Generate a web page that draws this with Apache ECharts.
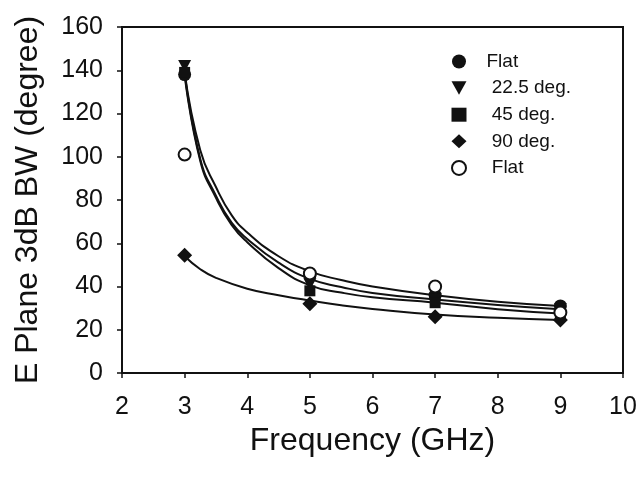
<!DOCTYPE html>
<html>
<head>
<meta charset="utf-8">
<script src="https://cdn.jsdelivr.net/npm/echarts@6/dist/echarts.min.js"></script>
<style>
  html, body { margin: 0; padding: 0; background: #ffffff; }
  #chart { width: 641px; height: 477px; }
</style>
</head>
<body>
<div id="chart"></div>
<script>
// Measured beamwidth per frequency (GHz -> degrees)
const freqs = [3, 5, 7, 9];
const flatFilled = [138, 45, 36, 31];
const deg22 = [142, 41, 34, 29.5];
const deg45 = [139, 38, 32.5, 27.5];
const deg90 = [54.5, 32, 26, 24.5];
const flatOpen = [101, 46, 40, 28];

// Fitted trend curves, sampled along frequency
const fitFreq = [3, 3.25, 3.5, 3.75, 4, 4.5, 5, 5.5, 6, 7, 8, 9];
const fitFlat = [139, 103, 86, 73, 65, 54, 47, 43, 40, 36, 33, 31];
const fit22 = [139, 99, 82, 69.5, 62, 51, 43.5, 39.8, 37, 34, 31.5, 29.5];
const fit45 = [138, 98, 81, 68.5, 60.5, 48.5, 40.5, 37.2, 35, 32.5, 29.5, 27.5];
const fitFreq90 = [3, 3.25, 3.5, 4, 4.5, 5, 5.5, 6, 7, 8, 9];
const fit90 = [54, 48, 44, 39, 36, 33.5, 31.3, 29.6, 27, 25.5, 24.5];

const xTicks = { min: 2, max: 10, step: 1 };
const yTicks = { min: 0, max: 160, step: 20 };

const pairs = (xs, ys) => xs.map((x, i) => [x, ys[i]]);
const FONT = 'Liberation Sans, Arial, sans-serif';
const INK = '#111111';
const TRI_DOWN = 'path://M0,0 L10,0 L5,9 Z';

function fitLine(xs, ys) {
  return {
    type: 'line',
    data: pairs(xs, ys),
    smooth: 0.5,
    showSymbol: false,
    silent: true,
    z: 1,
    lineStyle: { color: INK, width: 2 }
  };
}

function markers(name, ys, symbol, size, style) {
  return {
    type: 'scatter',
    name: name,
    data: pairs(freqs, ys),
    symbol: symbol,
    symbolSize: size,
    z: 3,
    itemStyle: Object.assign({ opacity: 1 }, style)
  };
}

const chart = echarts.init(document.getElementById('chart'), null, { renderer: 'canvas' });

chart.setOption({
  backgroundColor: '#ffffff',
  animation: false,
  textStyle: { fontFamily: FONT },
  grid: {
    left: 122, top: 27, right: 18, bottom: 104,
    show: true, borderColor: INK, borderWidth: 2, backgroundColor: 'transparent'
  },
  legend: {
    orient: 'vertical',
    left: 446,
    top: 47,
    itemWidth: 15,
    itemHeight: 14,
    itemGap: 7.6,
    selectedMode: false,
    textStyle: { fontFamily: FONT, fontSize: 19, color: INK, lineHeight: 19, padding: [0, 0, 0, 15] },
    data: ['Flat', ' 22.5 deg.', ' 45 deg.', ' 90 deg.', ' Flat']
  },
  xAxis: {
    type: 'value',
    min: xTicks.min, max: xTicks.max, interval: xTicks.step,
    name: 'Frequency (GHz)',
    nameLocation: 'middle',
    nameGap: 50,
    nameTextStyle: { fontFamily: FONT, fontSize: 32, color: INK },
    axisLine: { show: true, onZero: false, lineStyle: { color: INK, width: 2 } },
    axisTick: { show: true, inside: false, length: 5, lineStyle: { color: INK, width: 1.5 } },
    axisLabel: { fontFamily: FONT, fontSize: 25, color: INK, margin: 22 },
    splitLine: { show: false }
  },
  yAxis: {
    type: 'value',
    min: yTicks.min, max: yTicks.max, interval: yTicks.step,
    name: 'E Plane 3dB BW (degree)',
    nameLocation: 'middle',
    nameGap: 78,
    nameTextStyle: { fontFamily: FONT, fontSize: 32, color: INK },
    axisLine: { show: true, onZero: false, lineStyle: { color: INK, width: 2 } },
    axisTick: { show: true, inside: false, length: 5, lineStyle: { color: INK, width: 1.5 } },
    axisLabel: { fontFamily: FONT, fontSize: 25, color: INK, margin: 19 },
    splitLine: { show: false }
  },
  series: [
    fitLine(fitFreq, fitFlat),
    fitLine(fitFreq, fit22),
    fitLine(fitFreq, fit45),
    fitLine(fitFreq90, fit90),
    markers('Flat', flatFilled, 'circle', 13, { color: INK }),
    markers(' 22.5 deg.', deg22, TRI_DOWN, [13, 12], { color: INK }),
    markers(' 45 deg.', deg45, 'rect', 11, { color: INK }),
    markers(' 90 deg.', deg90, 'diamond', 15, { color: INK }),
    markers(' Flat', flatOpen, 'circle', 12, { color: '#ffffff', borderColor: INK, borderWidth: 2 })
  ]
});
</script>
</body>
</html>
